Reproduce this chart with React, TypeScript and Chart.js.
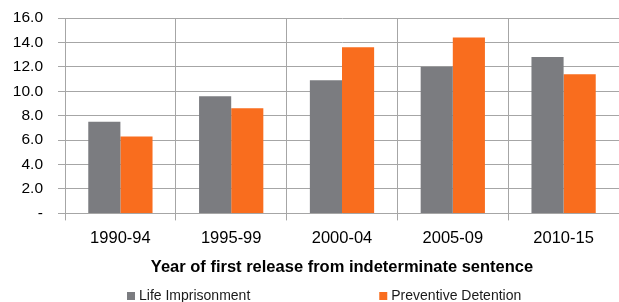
import React, { useEffect, useRef } from "react";
import { Chart, registerables } from "chart.js";

Chart.register(...registerables);

const categories = ["1990-94", "1995-99", "2000-04", "2005-09", "2010-15"];
const lifeImprisonment = [7.5, 9.6, 10.9, 12.0, 12.8];
const preventiveDetention = [6.3, 8.6, 13.6, 14.4, 11.4];
const seriesNames = ["Life Imprisonment", "Preventive Detention"];
const seriesColors = ["#7b7c80", "#f96d1e"];
const axisTitle = "Year of first release from indeterminate sentence";

const GRID = "#a6a6a6";
const FONT = "'Liberation Sans', Arial, sans-serif";

// Legend drawn with wide spacing between items (like the original Excel legend)
const spacedLegend = {
  id: "spacedLegend",
  afterDraw(chart: any) {
    const ctx = chart.ctx;
    const box = 8;
    const boxGap = 4;
    const itemGap = 129;
    const startX = chart.chartArea.left + 62;
    const cy = chart.height - 6;
    ctx.save();
    ctx.font = `14px ${FONT}`;
    ctx.textBaseline = "middle";
    ctx.textAlign = "left";
    let x = startX;
    chart.data.datasets.forEach((ds: any) => {
      ctx.fillStyle = ds.backgroundColor;
      ctx.fillRect(x, cy - box / 2, box, box);
      x += box + boxGap;
      ctx.fillStyle = "#1a1a1a";
      ctx.fillText(ds.label, x, cy);
      x += ctx.measureText(ds.label).width + itemGap;
    });
    ctx.restore();
  },
};

export default function App() {
  const ref = useRef<HTMLCanvasElement | null>(null);
  useEffect(() => {
    const canvas = ref.current;
    if (!canvas) return;
    const chart = new Chart(canvas, {
      type: "bar",
      data: {
        labels: categories,
        datasets: [
          {
            label: seriesNames[0],
            data: lifeImprisonment,
            backgroundColor: seriesColors[0],
            borderWidth: 0,
          },
          {
            label: seriesNames[1],
            data: preventiveDetention,
            backgroundColor: seriesColors[1],
            borderWidth: 0,
          },
        ],
      },
      plugins: [spacedLegend],
      options: {
        responsive: false,
        animation: false,
        devicePixelRatio: 1,
        layout: { padding: { left: 0, right: 0, top: 18, bottom: 21 } },
        datasets: {
          bar: { barPercentage: 1, categoryPercentage: 0.58 },
        },
        scales: {
          x: {
            grid: {
              color: GRID,
              offset: true,
              tickLength: 7,
              drawTicks: true,
            },
            border: { color: GRID },
            ticks: {
              color: "#000",
              font: { family: FONT, size: 16.5 },
              padding: 8,
            },
            title: {
              display: true,
              text: axisTitle,
              color: "#000",
              font: { family: FONT, size: 16.5, weight: "bold" },
              padding: { top: 1, bottom: 4 },
            },
          },
          y: {
            min: 0,
            max: 16,
            afterFit: (scale: any) => {
              scale.width = 65;
              scale.paddingTop = 0;
              scale.paddingBottom = 0;
            },
            grid: { color: GRID, tickLength: 7 },
            border: { color: GRID },
            ticks: {
              stepSize: 2,
              autoSkip: false,
              color: "#000",
              padding: 15,
              font: { family: FONT, size: 15.5 },
              callback: (v: any) => (Number(v) === 0 ? "-" : Number(v).toFixed(1)),
            },
          },
        },
        plugins: {
          legend: { display: false },
          title: { display: false },
          tooltip: { enabled: false },
        },
      },
    });
    return () => chart.destroy();
  }, []);
  return (
    <div style={{ position: "absolute", left: 0, top: 0, width: 619, height: 302, background: "#fff" }}>
      <canvas ref={ref} width={619} height={302} />
    </div>
  );
}
